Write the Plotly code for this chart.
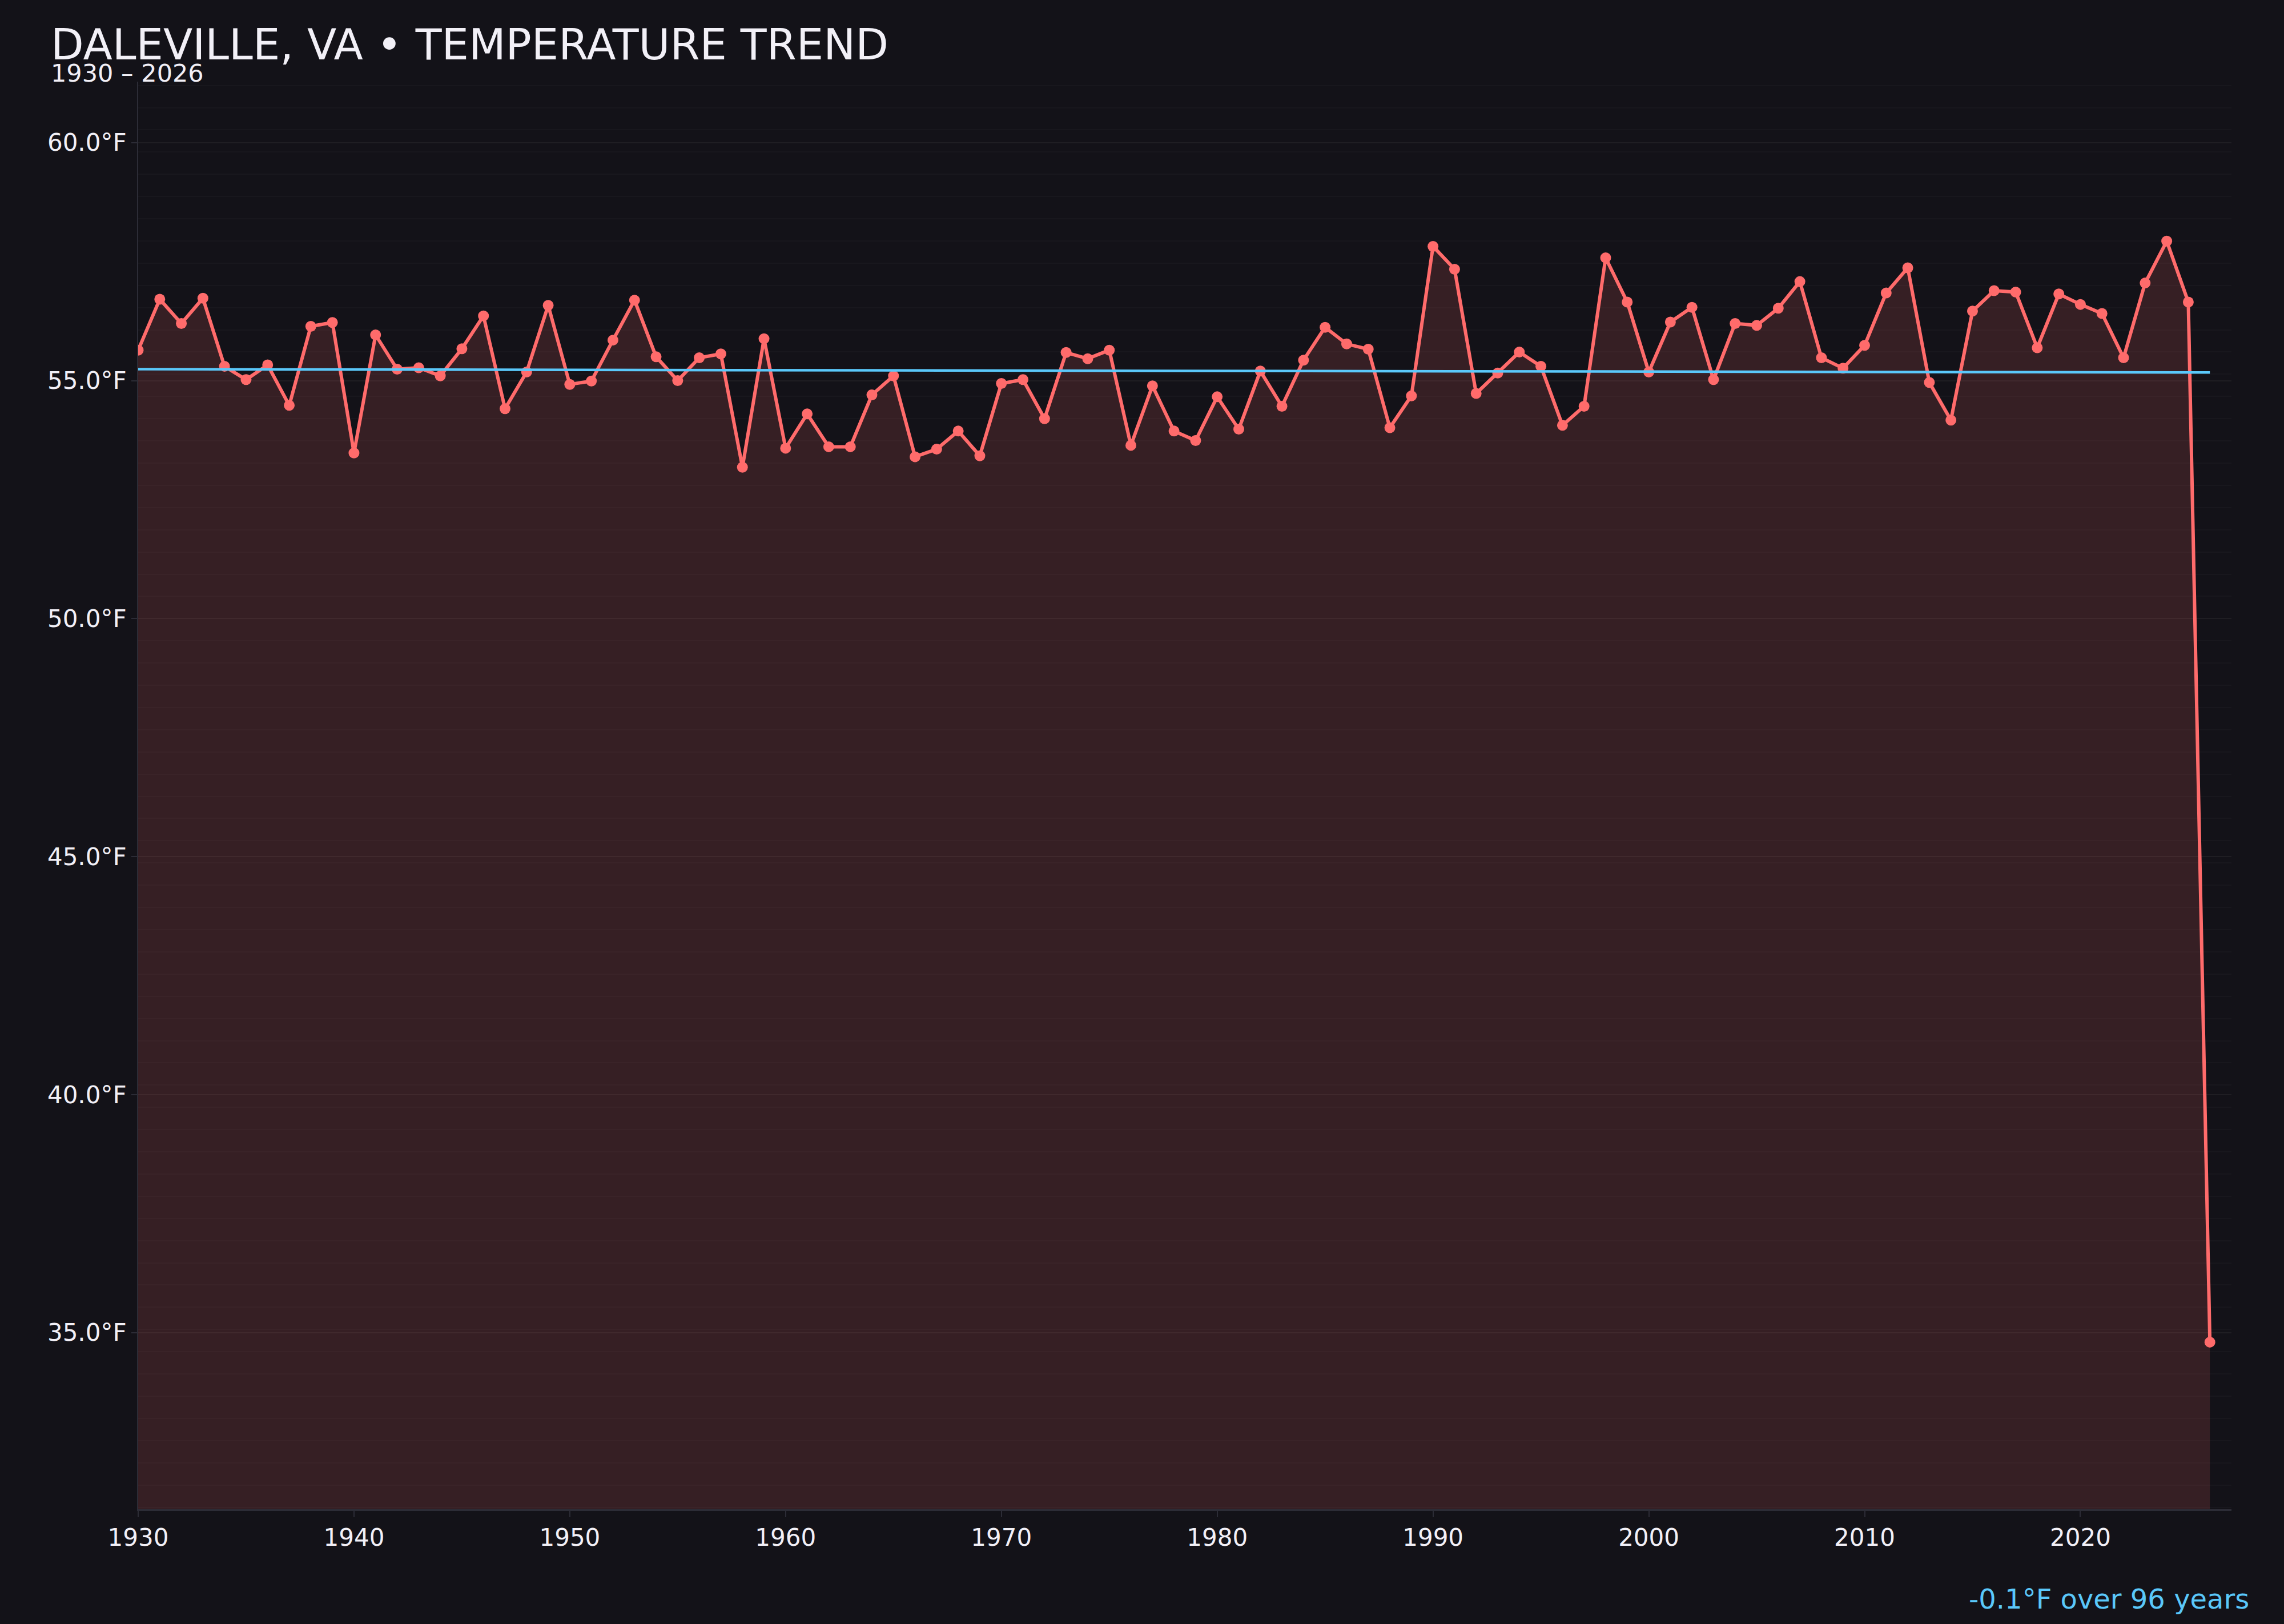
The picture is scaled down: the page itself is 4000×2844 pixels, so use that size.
import plotly.graph_objects as go

years = list(range(1930, 2027))
temps = [
    55.64, 56.71, 56.20, 56.73, 55.30, 55.02, 55.33, 54.48, 56.14, 56.22,  # 1930s
    53.48, 55.96, 55.24, 55.27, 55.10, 55.67, 56.36, 54.41, 55.18, 56.58,  # 1940s
    54.92, 54.99, 55.85, 56.69, 55.50, 55.00, 55.48, 55.56, 53.18, 55.88,  # 1950s
    53.58, 54.30, 53.61, 53.61, 54.70, 55.10, 53.40, 53.56, 53.94, 53.42,  # 1960s
    54.94, 55.02, 54.20, 55.59, 55.46, 55.64, 53.64, 54.89, 53.94, 53.74,  # 1970s
    54.66, 53.98, 55.20, 54.46, 55.43, 56.12, 55.77, 55.66, 54.01, 54.68,  # 1980s
    57.82, 57.34, 54.73, 55.16, 55.60, 55.30, 54.06, 54.46, 57.58, 56.65,  # 1990s
    55.18, 56.23, 56.54, 55.02, 56.20, 56.16, 56.52, 57.08, 55.48, 55.26,  # 2000s
    55.74, 56.84, 57.37, 54.96, 54.17, 56.46, 56.89, 56.86, 55.69, 56.82,  # 2010s
    56.60, 56.41, 55.48, 57.05, 57.93, 56.65, 34.80,                       # 2020s
]
trend_years = [1930, 2026]
trend_vals = [55.24, 55.17]

x_ticks = [1930, 1940, 1950, 1960, 1970, 1980, 1990, 2000, 2010, 2020]
title_text = "DALEVILLE, VA • TEMPERATURE TREND"
subtitle_text = "1930 – 2026"
trend_text = "-0.1°F over 96 years"

BG = "#131218"
LINE = "#ff6b6b"
TREND = "#5ac8fa"
AXIS = "#2c2c36"
FONT = "DejaVu Sans"

fig = go.Figure()
fig.add_trace(go.Scatter(
    x=years, y=temps, mode="lines+markers",
    line=dict(color=LINE, width=6),
    marker=dict(color=LINE, size=19),
    fill="tozeroy", fillcolor="rgba(255,107,107,0.15)",
    hoverinfo="x+y", showlegend=False,
))
fig.add_trace(go.Scatter(
    x=trend_years, y=trend_vals, mode="lines",
    line=dict(color=TREND, width=4.5),
    showlegend=False,
))

fig.update_layout(
    width=4000, height=2844,
    paper_bgcolor=BG, plot_bgcolor=BG,
    margin=dict(l=242, r=92, t=143, b=201),
    font=dict(family=FONT, color="#f2f0f7", size=42),
    xaxis=dict(
        range=[1930, 2027], tickvals=x_ticks, showgrid=False,
        showline=True, linecolor=AXIS, linewidth=3,
        ticks="outside", ticklen=11, tickwidth=2, tickcolor=AXIS,
        tickfont=dict(size=42, color="#f2f0f7"), zeroline=False,
    ),
    yaxis=dict(
        range=[31.29, 61.28], dtick=5, tick0=0, tickformat=".1f", ticksuffix="°F",
        showgrid=True, gridcolor="rgba(255,255,255,0.05)", gridwidth=2,
        minor=dict(dtick=0.4667, tick0=50, showgrid=True,
                   gridcolor="rgba(255,255,255,0.022)", gridwidth=2),
        showline=True, linecolor=AXIS, linewidth=2,
        ticks="outside", ticklen=10, tickwidth=2, tickcolor=AXIS,
        tickfont=dict(size=42, color="#f2f0f7"), zeroline=False,
    ),
    annotations=[
        dict(text=title_text, xref="paper", yref="paper", x=-0.0423, y=1.0262,
             xanchor="left", yanchor="middle", showarrow=False,
             font=dict(size=75, color="#f2f0f7", family=FONT)),
        dict(text=subtitle_text, xref="paper", yref="paper", x=-0.0423, y=1.0058,
             xanchor="left", yanchor="middle", showarrow=False,
             font=dict(size=43, color="#f2f0f7", family=FONT)),
        dict(text=trend_text, xref="paper", yref="paper", x=1.009, y=-0.0628,
             xanchor="right", yanchor="middle", showarrow=False,
             font=dict(size=48, color=TREND, family=FONT)),
    ],
)

fig.write_html(
    "out.html",
    config={"displayModeBar": False},
    post_script="document.body.style.margin='0';document.body.style.overflow='hidden';"
                "document.body.style.background='" + BG + "';",
)
